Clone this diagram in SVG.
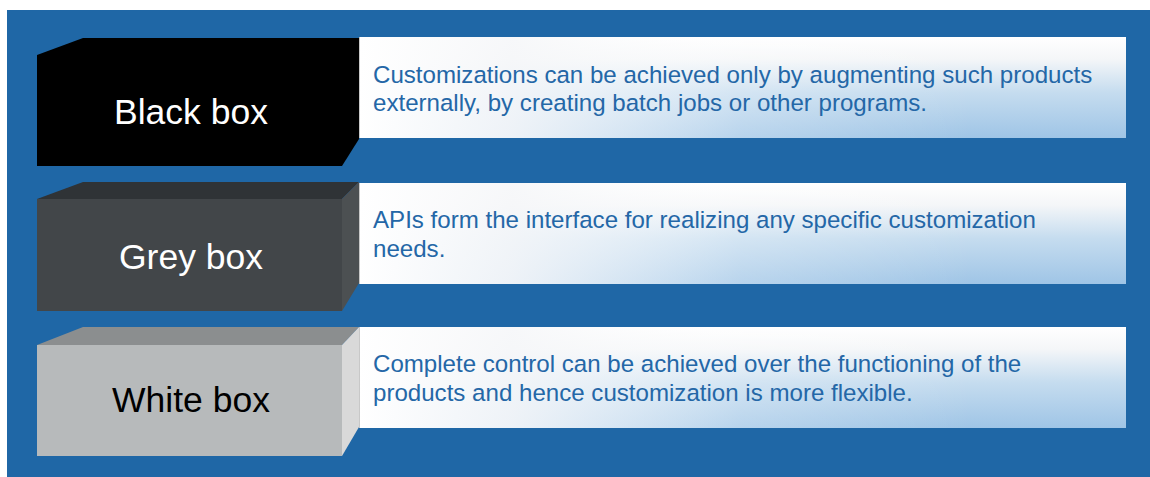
<svg xmlns="http://www.w3.org/2000/svg" width="1150" height="477" viewBox="0 0 1150 477">
  <defs>
    <!-- description panels: white at the top, pale blue toward the bottom right -->
    <linearGradient id="panelV" x1="0" y1="0" x2="0" y2="1">
      <stop offset="0" stop-color="#ffffff"/>
      <stop offset="0.22" stop-color="#f4f6f8"/>
      <stop offset="0.55" stop-color="#c5dcef"/>
      <stop offset="1" stop-color="#9fc5e6"/>
    </linearGradient>
    <linearGradient id="panelH" x1="0" y1="0" x2="1" y2="0">
      <stop offset="0" stop-color="#ffffff" stop-opacity="1"/>
      <stop offset="0.2" stop-color="#f6f7f9" stop-opacity="0.9"/>
      <stop offset="0.5" stop-color="#ffffff" stop-opacity="0.25"/>
      <stop offset="0.8" stop-color="#ffffff" stop-opacity="0"/>
    </linearGradient>
    <g id="panel">
      <rect x="0" y="0" width="767" height="101" fill="url(#panelV)"/>
      <rect x="0" y="0" width="767" height="101" fill="url(#panelH)"/>
      <line x1="0.5" y1="0" x2="0.5" y2="101" stroke="#c8c8c8" stroke-width="1"/>
    </g>
  </defs>
  <style>
    .label { font-family: "Liberation Sans", Arial, sans-serif; font-size: 35.5px; text-anchor: middle; }
    .desc { font-family: "Liberation Sans", Arial, sans-serif; font-size: 24.1px; fill: #2467a7; }
  </style>

  <!-- blue backdrop -->
  <rect x="7" y="10" width="1143" height="467" fill="#1f67a6"/>

  <!-- Black box row -->
  <g id="black-box">
    <polygon points="37,55 83,38 359,38 359,139 342,166 37,166" fill="#000000"/>
    <text class="label" x="191" y="124" fill="#ffffff">Black box</text>
  </g>
  <g id="black-box-desc">
    <use href="#panel" x="359" y="37"/>
    <text class="desc" x="373" y="83">Customizations can be achieved only by augmenting such products</text>
    <text class="desc" x="373" y="111">externally, by creating batch jobs or other programs.</text>
  </g>

  <!-- Grey box row -->
  <g id="grey-box">
    <polygon points="37,199 83,182 359,182 342,199" fill="#2f3336"/>
    <rect x="37" y="199" width="305" height="112" fill="#424649"/>
    <polygon points="342,199 359,182 359,283 342,311" fill="#4c5052"/>
    <text class="label" x="191" y="269" fill="#ffffff">Grey box</text>
  </g>
  <g id="grey-box-desc">
    <use href="#panel" x="359" y="183"/>
    <text class="desc" x="373" y="228">APIs form the interface for realizing any specific customization</text>
    <text class="desc" x="373" y="257">needs.</text>
  </g>

  <!-- White box row -->
  <g id="white-box">
    <polygon points="37,345 83,327 359,327 342,345" fill="#8b8e8f"/>
    <rect x="37" y="345" width="305" height="111" fill="#b7babb"/>
    <polygon points="342,345 359,327 359,427 342,456" fill="#d9d9d9"/>
    <text class="label" x="191" y="412" fill="#000000">White box</text>
  </g>
  <g id="white-box-desc">
    <use href="#panel" x="359" y="327"/>
    <text class="desc" x="373" y="372">Complete control can be achieved over the functioning of the</text>
    <text class="desc" x="373" y="401">products and hence customization is more flexible.</text>
  </g>
</svg>
